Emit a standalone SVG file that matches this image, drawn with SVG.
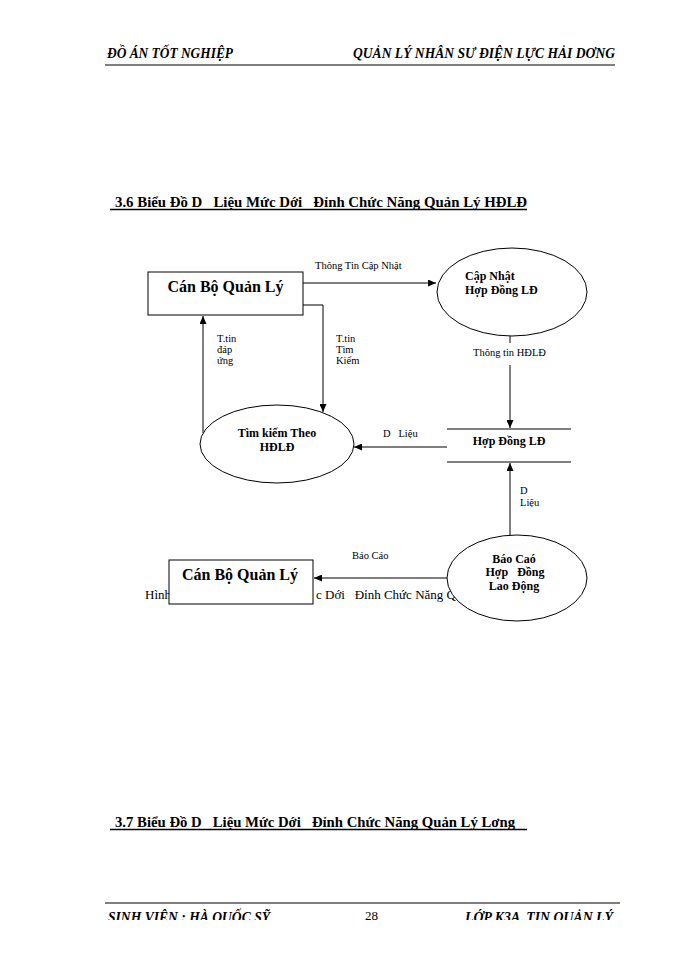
<svg xmlns="http://www.w3.org/2000/svg" width="700" height="960" viewBox="0 0 700 960">
<style>
text{font-family:"Liberation Serif","Times New Roman",serif;fill:#000;white-space:pre}
.hdr{font-size:14px;font-weight:bold;font-style:italic}
.ttl{font-size:14px;font-weight:bold}
.box{fill:#fff;stroke:#000;stroke-width:1}
.ell{fill:#fff;stroke:#000;stroke-width:1}
.big{font-size:16px;font-weight:bold}
.nt{font-size:12px;font-weight:bold}
.lbl{font-size:10.5px}
.cap{font-size:13px}
.con{fill:none;stroke:#000;stroke-width:1;marker-end:url(#ah)}
.rule{stroke:#555;stroke-width:1.6}
</style>
<defs>
<marker id="ah" markerWidth="8" markerHeight="7" refX="8" refY="3.5" orient="auto" markerUnits="userSpaceOnUse">
<path d="M0,0 L8,3.5 L0,7 z" fill="#000"/>
</marker>
<clipPath id="footclip"><rect x="0" y="0" width="700" height="920"/></clipPath>
</defs>
<rect width="700" height="960" fill="#fff"/>

<!-- header -->
<g id="header">
<text class="hdr" x="107" y="58" textLength="126" lengthAdjust="spacingAndGlyphs">ĐỒ ÁN TỐT NGHIỆP</text>
<text class="hdr" x="353" y="58" textLength="262" lengthAdjust="spacingAndGlyphs">QUẢN LÝ NHÂN SƯ ĐIỆN LỰC HẢI DƠNG</text>
<line class="rule" x1="105" y1="65" x2="615" y2="65"/>
</g>

<!-- section title -->
<g id="title36">
<text class="ttl" x="115" y="207" textLength="412" lengthAdjust="spacingAndGlyphs">3.6 Biểu Đồ D   Liệu Mức Dới   Đỉnh Chức Năng Quản Lý HĐLĐ</text>
<line x1="110" y1="209.5" x2="527" y2="209.5" stroke="#000" stroke-width="1.6"/>
</g>

<!-- caption pieces left visible between the nodes -->
<text class="cap" x="145" y="599">Hình</text>
<text class="cap" x="316" y="599">c Dới   Đỉnh Chức Năng Q</text>

<!-- connectors -->
<g id="connectors">
<path class="con" d="M303,283 H436"/>
<text class="lbl" x="315" y="269">Thông Tin Cập Nhật</text>
<path class="con" d="M303,305 H323 V412"/>
<text class="lbl" x="336" y="342">T.tin</text>
<text class="lbl" x="336" y="353">Tìm</text>
<text class="lbl" x="336" y="364">Kiếm</text>
<path class="con" d="M203,433 V316"/>
<text class="lbl" x="217" y="342">T.tin</text>
<text class="lbl" x="217" y="353">đáp</text>
<text class="lbl" x="217" y="364">ứng</text>
<path class="con" d="M510,336 V343 M510,365 V428"/>
<text class="lbl" x="473" y="356">Thông tin HĐLĐ</text>
<path class="con" d="M447,447 H354"/>
<text class="lbl" x="383" y="437">D   Liệu</text>
<path class="con" d="M510,535 V463"/>
<text class="lbl" x="520" y="494">D</text>
<text class="lbl" x="520" y="506">Liệu</text>
<path class="con" d="M447,578 H314"/>
<text class="lbl" x="352" y="559">Báo Cáo</text>
</g>

<!-- nodes -->
<g id="canbo1">
<rect class="box" x="148" y="272" width="155" height="43"/>
<text class="big" x="225.5" y="292" text-anchor="middle">Cán Bộ Quản Lý</text>
</g>
<g id="capnhat">
<ellipse class="ell" cx="512" cy="292" rx="75" ry="44"/>
<text class="nt" x="465" y="280">Cập Nhật</text>
<text class="nt" x="465" y="293.5">Hợp Đồng LĐ</text>
</g>
<g id="timkiem">
<ellipse class="ell" cx="277" cy="444" rx="77" ry="39"/>
<text class="nt" x="277" y="437" text-anchor="middle">Tìm kiếm Theo</text>
<text class="nt" x="277" y="450.5" text-anchor="middle">HĐLĐ</text>
</g>
<g id="hopdong">
<line x1="447" y1="429" x2="571" y2="429" stroke="#000"/>
<line x1="447" y1="462" x2="571" y2="462" stroke="#000"/>
<text class="nt" x="509" y="445" text-anchor="middle">Hợp Đồng LĐ</text>
</g>
<g id="baocao">
<ellipse class="ell" cx="517" cy="578" rx="70" ry="43"/>
<text class="nt" x="514" y="562.5" text-anchor="middle">Báo Caó</text>
<text class="nt" x="515" y="576" text-anchor="middle">Hợp   Đồng</text>
<text class="nt" x="514" y="589.5" text-anchor="middle">Lao Động</text>
</g>
<g id="canbo2">
<rect class="box" x="169" y="560" width="144" height="44"/>
<text class="big" x="240" y="580" text-anchor="middle">Cán Bộ Quản Lý</text>
</g>

<!-- section 3.7 title -->
<g id="title37">
<text class="ttl" x="115" y="827" textLength="400" lengthAdjust="spacingAndGlyphs">3.7 Biểu Đồ D   Liệu Mức Dới   Đỉnh Chức Năng Quản Lý Lơng</text>
<line x1="110" y1="829.5" x2="527" y2="829.5" stroke="#000" stroke-width="1.6"/>
</g>

<!-- footer -->
<g id="footer">
<line class="rule" x1="105" y1="903" x2="620" y2="903"/>
<g clip-path="url(#footclip)">
<text class="hdr" x="108" y="922" textLength="162" lengthAdjust="spacingAndGlyphs">SINH VIÊN : HÀ QUỐC SỸ</text>
<text class="hdr" x="465" y="922" textLength="148" lengthAdjust="spacingAndGlyphs">LỚP K3A  TIN QUẢN LÝ</text>
</g>
<text x="365" y="920" font-size="13">28</text>
</g>
</svg>
